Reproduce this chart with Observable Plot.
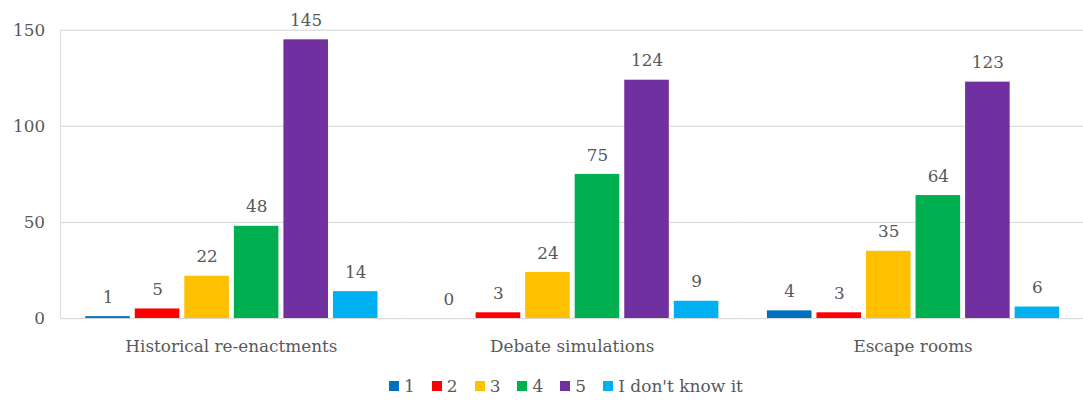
<!DOCTYPE html>
<html>
<head>
<meta charset="utf-8">
<script src="https://cdn.jsdelivr.net/npm/d3@7"></script>
<script src="https://cdn.jsdelivr.net/npm/@observablehq/plot@0.6"></script>
<style>
  html, body { margin: 0; padding: 0; background: #fff; overflow: hidden; width: 1083px; }
  #chart svg { display: block; }
  #legend { display: flex; align-items: center; justify-content: flex-start; padding-left: 389px; margin-top: 14px;
    font-family: 'DejaVu Serif', serif; font-size: 17px; line-height: 20px; color: #595959; }
  .item { display: flex; align-items: center; margin-right: 17px; }
  .sw { width: 10px; height: 10px; margin-right: 5px; }
</style>
</head>
<body>
<div id="chart"></div>
<div id="legend"></div>
<script>
const categories = ["Historical re-enactments", "Debate simulations", "Escape rooms"];
const series = ["1", "2", "3", "4", "5", "I don't know it"];
const colors = ["#0070C0", "#FF0000", "#FFC000", "#00B050", "#7030A0", "#00B0F0"];
const historical = [1, 5, 22, 48, 145, 14];
const debate = [0, 3, 24, 75, 124, 9];
const escape = [4, 3, 35, 64, 123, 6];
const yTicks = [0, 50, 100, 150];

const valuesByCat = [historical, debate, escape];
const data = [];
categories.forEach((c, ci) => series.forEach((s, si) => data.push({cat: c, series: s, value: valuesByCat[ci][si]})));

const font = "'DejaVu Serif', serif";
const chart = Plot.plot({
  width: 1093,
  height: 365,
  marginLeft: 61,
  marginRight: 0,
  marginTop: 30,
  marginBottom: 44,
  style: {fontFamily: font, fontSize: "17px", color: "#595959", background: "#fff"},
  fx: {domain: categories, padding: 0, label: null, axis: "bottom", tickSize: 0, tickPadding: 22},
  x: {domain: series, paddingInner: 0.1, paddingOuter: 0.455, axis: null},
  y: {domain: [0, 150], ticks: yTicks, label: null, tickSize: 0, tickPadding: 16, grid: true},
  color: {domain: series, range: colors},
  marks: [
    Plot.gridY(yTicks, {stroke: "#d9d9d9", strokeOpacity: 1}),
    Plot.barY(data, {fx: "cat", x: "series", y: "value", fill: "series"}),
    Plot.ruleY([0], {stroke: "#d9d9d9"}),
    Plot.text(data, {fx: "cat", x: "series", y: "value", text: d => String(d.value), lineAnchor: "bottom", dy: -14, fill: "#595959", fontSize: 17})
  ]
});
document.getElementById("chart").appendChild(chart);

const ys = chart.scale("y");
d3.select(chart).append("line")
  .attr("x1", 61).attr("x2", 61)
  .attr("y1", ys.apply(0)).attr("y2", ys.apply(150))
  .attr("stroke", "#d9d9d9");

const legend = document.getElementById("legend");
series.forEach((s, i) => {
  const it = document.createElement("div"); it.className = "item";
  const sw = document.createElement("div"); sw.className = "sw"; sw.style.background = colors[i];
  const t = document.createElement("span"); t.textContent = s;
  it.appendChild(sw); it.appendChild(t); legend.appendChild(it);
});
</script>
</body>
</html>
